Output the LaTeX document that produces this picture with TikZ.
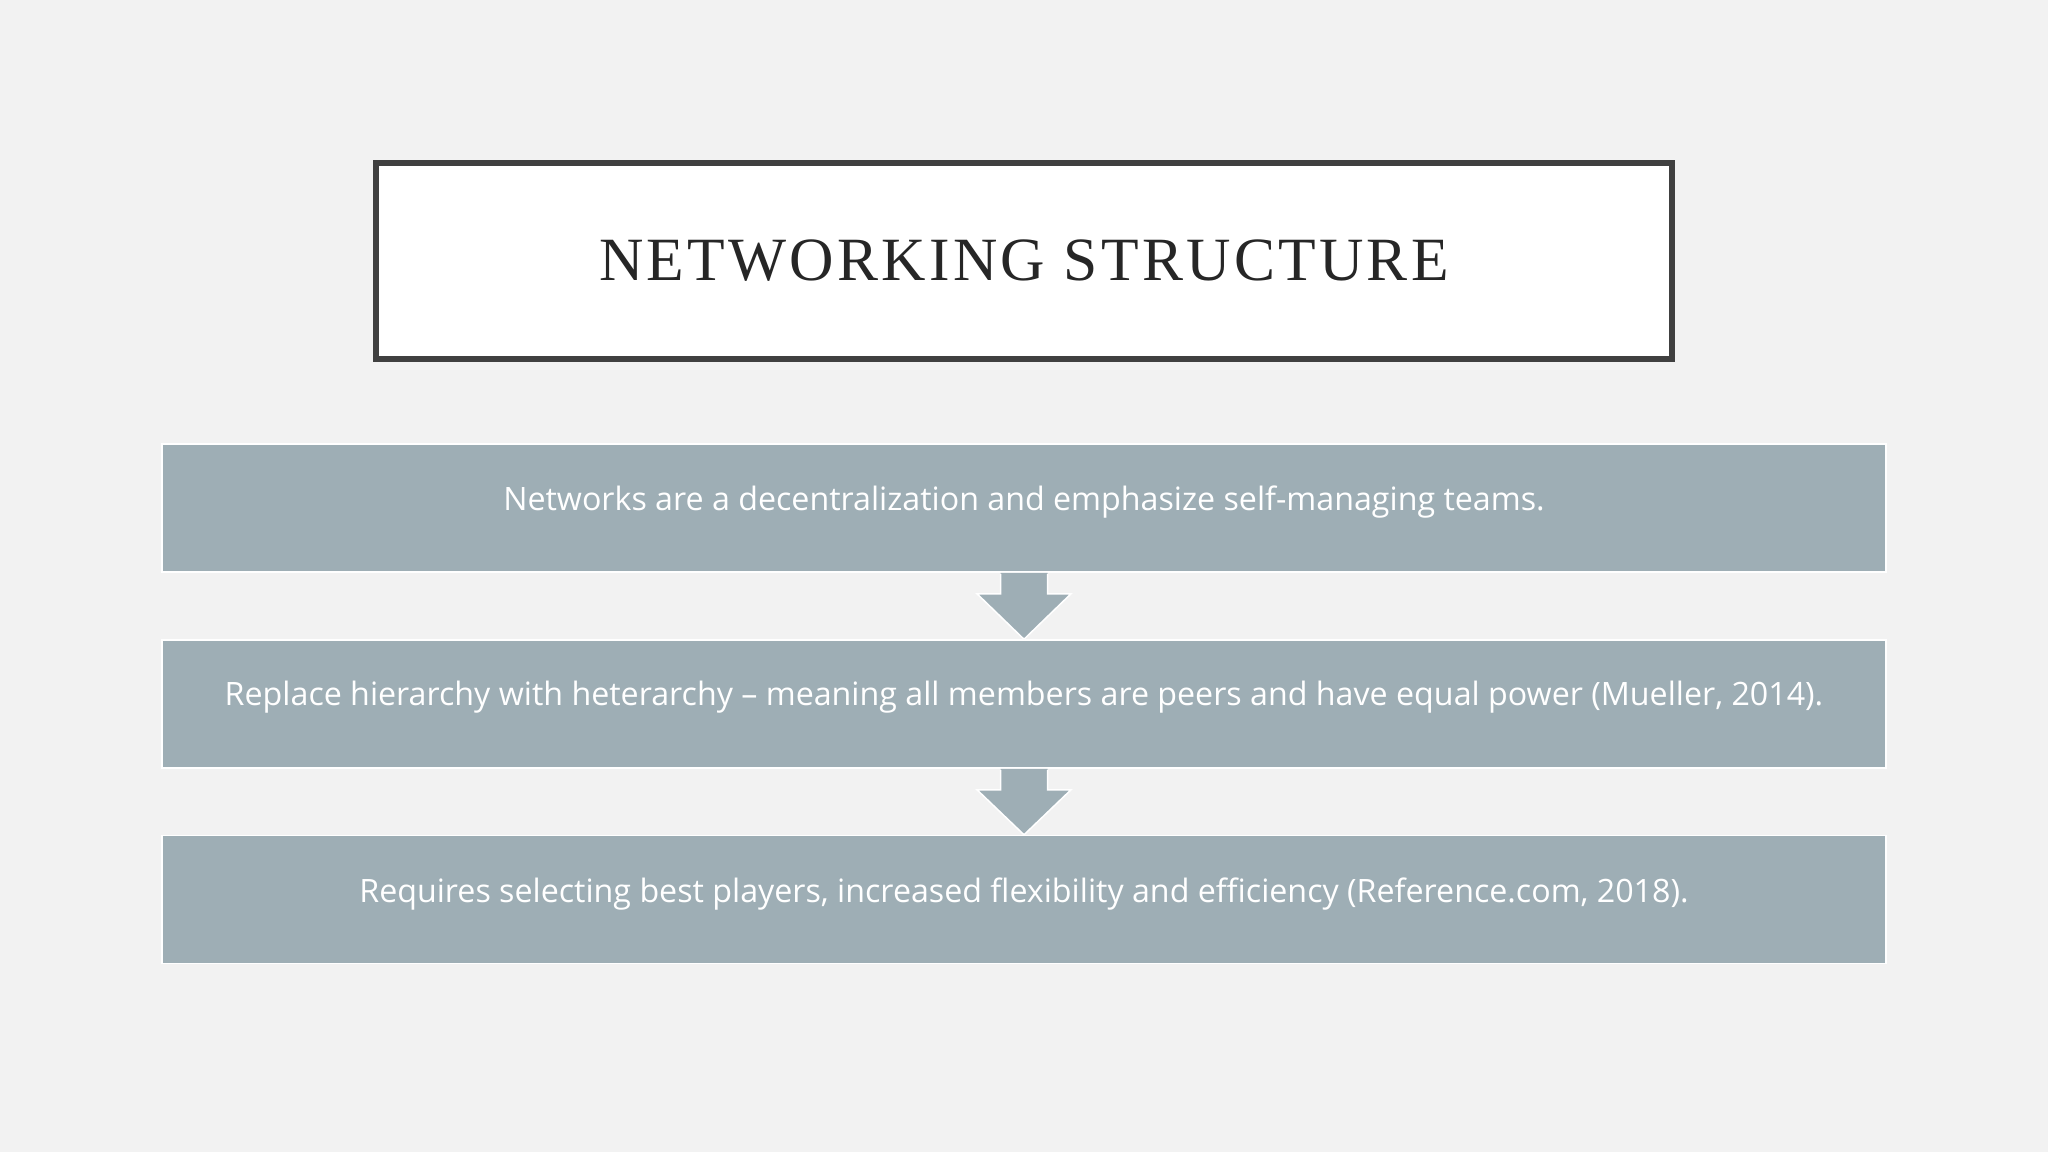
\documentclass[tikz,border=0pt]{standalone}
\usepackage{fontspec}
\setmainfont{Liberation Serif}
\newfontfamily\bodyfont{Open Sans}
\newfontfamily\titlefont[LetterSpace=5.3]{Liberation Serif}
\usetikzlibrary{calc}
\definecolor{bg}{RGB}{242,242,242}
\definecolor{boxgray}{RGB}{158,174,181}
\definecolor{frame}{RGB}{64,64,64}
\definecolor{titletext}{RGB}{38,38,38}
\tikzset{
  titlebox/.style={draw=frame, line width=5.5pt, fill=white, minimum width=1296pt, minimum height=196pt, inner sep=0pt},
  flowbox/.style={fill=boxgray, draw=white, line width=1.5pt, minimum width=1724pt, minimum height=128pt, inner sep=0pt},
  flowtext/.style={text=white, font=\bodyfont\fontsize{32.2}{38}\selectfont, inner sep=0pt},
  arrowfill/.style={fill=boxgray},
  arrowedge/.style={draw=white, line width=1.5pt, line join=miter},
}
\begin{document}
\begin{tikzpicture}[x=1pt,y=-1pt]
\fill[bg] (0,0) rectangle (2048,1152);
\useasboundingbox (0,0) rectangle (2048,1152);
\node[titlebox] (title) at (1024,261) {};
\node[text=titletext, font=\titlefont\fontsize{61.5}{66}\selectfont, inner sep=0pt] (titletxt) at (1024,261) {NETWORKING STRUCTURE};
\node[flowbox] (b1) at (1024,508) {};
\node[flowbox] (b2) at (1024,704) {};
\node[flowbox] (b3) at (1024,899.5) {};
\node[flowtext] (t1) at (1024,502.5) {Networks are a decentralization and emphasize self-managing teams.};
\node[flowtext] (t2) at (1024,697.5) {Replace hierarchy with heterarchy – meaning all members are peers and have equal power (Mueller, 2014).};
\node[flowtext] (t3) at (1024,894.5) {Requires selecting best players, increased flexibility and efficiency (Reference.com, 2018).};
% arrows
\foreach \a/\b in {b1/b2, b2/b3}{
  \coordinate (s) at (\a.south);
  \coordinate (e) at (\b.north);
  \fill[arrowfill] ($(s)+(-23.5,0)$) -- ($(s)+(-23.5,21)$) -- ($(s)+(-47,21)$) -- (e) -- ($(s)+(47,21)$) -- ($(s)+(23.5,21)$) -- ($(s)+(23.5,0)$) -- cycle;
  \draw[arrowedge] ($(s)+(-23.5,1)$) -- ($(s)+(-23.5,21)$) -- ($(s)+(-47,21)$) -- (e) -- ($(s)+(47,21)$) -- ($(s)+(23.5,21)$) -- ($(s)+(23.5,1)$);
}
\end{tikzpicture}
\end{document}
